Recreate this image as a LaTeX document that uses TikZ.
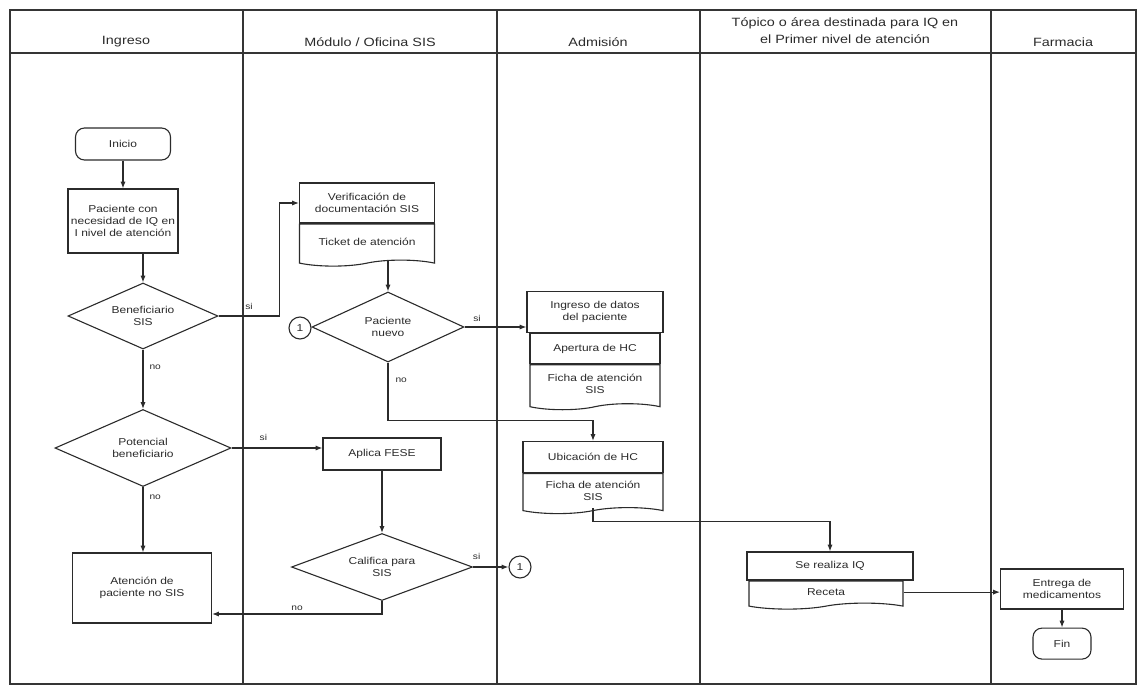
\documentclass[tikz,border=0pt]{standalone}
\usepackage{fontspec}
\setsansfont[FakeStretch=1.2]{Liberation Sans}
\usetikzlibrary{arrows.meta,positioning,shapes.geometric,shapes.symbols,calc}
\usepackage{xcolor}
\definecolor{ink}{HTML}{2B2B2B}
\definecolor{rule}{HTML}{353535}
\tikzset{
  base/.style={font=\sffamily\fontsize{10}{12}\selectfont,align=center,draw=ink,line width=1.1pt,fill=white,inner sep=2pt,text=ink},
  terminal/.style={base,rounded corners=9pt},
  process/.style={base,rectangle},
  docpart/.style={base,tape,tape bend top=none,tape bend bottom=in and out,tape bend height=6pt},
  decision/.style={base,diamond,aspect=2.3,inner sep=0pt},
  connector/.style={base,circle,minimum size=22pt,inner sep=0pt},
  lane/.style={draw=rule,line width=1.2pt},
  lanehead/.style={font=\sffamily\fontsize{12}{17}\selectfont,align=center,text=ink},
  flow/.style={-{Latex[length=2.4mm,width=1.8mm]},draw=ink,line width=1.1pt},
  lbl/.style={font=\sffamily\fontsize{8.5}{9}\selectfont,text=ink,inner sep=1pt}
}
\begin{document}
\begin{tikzpicture}[x=1pt,y=-1pt]
\useasboundingbox (0,0) rectangle (1140,688);
% lanes
\draw[lane] (10,10) rectangle (1136,684);
\draw[lane] (10,53) -- (1136,53);
\foreach \x in {243,497,700,991} \draw[lane] (\x,10) -- (\x,684);
\node[lanehead] (hingreso) at (126,42) {Ingreso};
\node[lanehead] (hmodulo) at (370,42) {Módulo / Oficina SIS};
\node[lanehead] (hadmision) at (598,42) {Admisión};
\node[lanehead] (htopico) at (845,31) {Tópico o área destinada para IQ en\\el Primer nivel de atención};
\node[lanehead] (hfarmacia) at (1063,42) {Farmacia};

% Ingreso
\node[terminal,minimum width=95pt,minimum height=32pt] (inicio) at (123,144) {Inicio};
\node[process,minimum width=110pt,minimum height=64pt] (paciente) at (123,221) {Paciente con\\necesidad de IQ en\\I nivel de atención};
\node[decision,minimum width=150pt,minimum height=66pt] (benef) at (143,316) {Beneficiario\\SIS};
\node[decision,minimum width=176pt,minimum height=77pt] (potencial) at (143,448) {Potencial\\beneficiario};
\node[process,minimum width=139pt,minimum height=70pt] (atencion) at (142,588) {Atención de\\paciente no SIS};

% Modulo / Oficina SIS
\node[process,minimum width=135pt,minimum height=40pt] (verif) at (367,203) {Verificación de\\documentación SIS};
\node[docpart,minimum width=135pt,minimum height=42pt,below=0pt of verif] (ticket) {Ticket de atención};
\node[decision,minimum width=152pt,minimum height=70pt] (nuevo) at (388,327) {Paciente\\nuevo};
\node[connector] (cona) at (300,328) {1};
\node[process,minimum width=118pt,minimum height=32pt] (aplica) at (382,454) {Aplica FESE};
\node[decision,minimum width=181pt,minimum height=67pt] (califica) at (382,567) {Califica para\\SIS};

% Admision
\node[process,minimum width=136pt,minimum height=41pt] (datos) at (595,312) {Ingreso de datos\\del paciente};
\node[process,minimum width=130pt,minimum height=30pt,below=0pt of datos] (apertura) {Apertura de HC};
\node[docpart,minimum width=130pt,minimum height=45pt,below=0pt of apertura] (fichaa) {Ficha de atención\\SIS};
\node[process,minimum width=140pt,minimum height=31pt] (ubicacion) at (593,457) {Ubicación de HC};
\node[docpart,minimum width=140pt,minimum height=40pt,below=0pt of ubicacion] (fichab) {Ficha de atención\\SIS};
\node[connector] (conb) at (520,567) {1};

% Topico
\node[process,minimum width=166pt,minimum height=28pt] (cirugia) at (830,566) {Se realiza IQ};
\node[docpart,minimum width=154pt,minimum height=28pt,anchor=north west] (receta) at ([xshift=2pt]cirugia.south west) {Receta};

% Farmacia
\node[process,minimum width=123pt,minimum height=40pt] (entrega) at (1062,589) {Entrega de\\medicamentos};
\node[terminal,minimum width=58pt,minimum height=31pt,below=18pt of entrega] (fin) {Fin};

\draw[flow] (inicio) -- (inicio |- paciente.north);
\draw[flow] (paciente.south -| benef.north) -- (benef.north);
\draw[flow] (benef.east) -- node[lbl,above=5pt]{si} ++(61,0) |- (verif.west);
\draw[flow] (benef.south) -- node[lbl,right=5pt,pos=0.3]{no} (potencial.north);
\draw[flow] (potencial.east) -- node[lbl,above=6pt,pos=0.35]{si} (potencial.east -| aplica.west);
\draw[flow] (potencial.south) -- node[lbl,right=5pt,pos=0.15]{no} (potencial.south |- atencion.north);
\draw[flow] (ticket.south -| nuevo.north) -- (nuevo.north);
\draw[flow] (nuevo.east) -- node[lbl,above=4pt,pos=0.2]{si} (nuevo.east -| datos.west);
\draw[flow] (nuevo.south) -- node[lbl,right=6pt,pos=0.3]{no} ++(0,58) -| (ubicacion.north);
\draw[flow] (aplica) -- (califica);
\draw[flow] (califica.east) -- node[lbl,above=6pt,pos=0.1]{si} (conb);
\draw[flow] (califica.south) |- node[lbl,above=2pt,pos=0.75]{no} ([yshift=-26pt]atencion.east);
\draw[flow] (fichab.south) -- ++(0,13) -| (cirugia.north);
\draw[flow] (receta.east) -- (receta.east -| entrega.west);
\draw[flow] (entrega) -- (fin);
\end{tikzpicture}
\end{document}
